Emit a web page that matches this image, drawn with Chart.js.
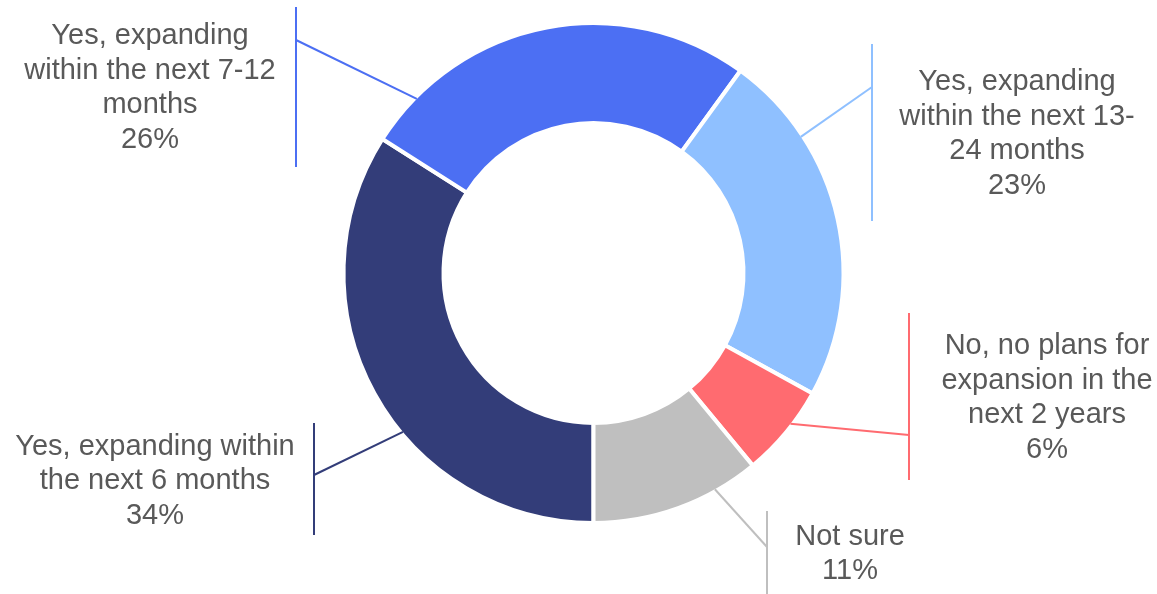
<!DOCTYPE html>
<html lang="en">
<head>
  <meta charset="UTF-8" />
  <title>Expansion Plans</title>
  <script src="https://cdn.jsdelivr.net/npm/chart.js"></script>
  <style>
    html, body { margin: 0; padding: 0; background: #fff; }
    #wrap { width: 1157px; height: 594px; }
  </style>
</head>
<body>
  <div id="wrap"><canvas id="donutChart" width="1157" height="594"></canvas></div>

  <script>
    // answer categories, label lines and shares (%)
    const categories = [
      'Yes, expanding within the next 6 months',
      'Yes, expanding within the next 7-12 months',
      'Yes, expanding within the next 13-24 months',
      'No, no plans for expansion in the next 2 years',
      'Not sure'
    ];
    const labelLines = [
      ['Yes, expanding within', 'the next 6 months'],
      ['Yes, expanding', 'within the next 7-12', 'months'],
      ['Yes, expanding', 'within the next 13-', '24 months'],
      ['No, no plans for', 'expansion in the', 'next 2 years'],
      ['Not sure']
    ];
    const shares = [34, 26, 23, 6, 11];
    const colors = ['#333D79', '#4C6FF3', '#8FC0FF', '#FF6B70', '#BFBFBF'];

    // callout boxes: text centre, bracket x, bracket top/bottom, where the leader joins,
    // and how far along the slice the leader touches the ring
    const callouts = [
      { tx: 155,  ty: 481, bx: 314, top: 423, bottom: 535, ay: 475, along: 0.41 },
      { tx: 150,  ty: 88,  bx: 296, top: 7,   bottom: 167, ay: 40,  along: 0.13 },
      { tx: 1017, ty: 134, bx: 872, top: 44,  bottom: 221, ay: 87,  along: 0.25 },
      { tx: 1047, ty: 398, bx: 909, top: 313, bottom: 480, ay: 435, along: 0.40 },
      { tx: 850,  ty: 554, bx: 767, top: 511, bottom: 598, ay: 547, along: 0.26 }
    ];

    const calloutPlugin = {
      id: 'callouts',
      afterDatasetsDraw(chart) {
        const ctx = chart.ctx;
        const meta = chart.getDatasetMeta(0);
        const values = chart.data.datasets[0].data;
        meta.data.forEach((arc, i) => {
          const c = callouts[i];
          const a = arc.startAngle + c.along * (arc.endAngle - arc.startAngle);
          const r = arc.outerRadius - 2;
          const px = arc.x + r * Math.cos(a);
          const py = arc.y + r * Math.sin(a);

          ctx.save();
          ctx.strokeStyle = colors[i];
          ctx.lineWidth = 2;
          ctx.beginPath();
          ctx.moveTo(px, py);
          ctx.lineTo(c.bx, c.ay);
          ctx.stroke();
          ctx.beginPath();
          ctx.moveTo(c.bx, c.top);
          ctx.lineTo(c.bx, c.bottom);
          ctx.stroke();

          const lines = labelLines[i].concat([values[i] + '%']);
          const lh = 34.5;
          ctx.fillStyle = '#595959';
          ctx.font = '29px "Liberation Sans", Arial, sans-serif';
          ctx.textAlign = 'center';
          ctx.textBaseline = 'middle';
          const y0 = c.ty - (lines.length - 1) * lh / 2;
          lines.forEach((t, k) => ctx.fillText(t, c.tx, y0 + k * lh));
          ctx.restore();
        });
      }
    };

    new Chart(document.getElementById('donutChart'), {
      type: 'doughnut',
      data: {
        labels: categories,
        datasets: [{
          data: shares,
          backgroundColor: colors,
          borderColor: '#ffffff',
          borderWidth: 4
        }]
      },
      options: {
        responsive: false,
        animation: false,
        rotation: 180,
        radius: 250,
        cutout: '60%',
        layout: { padding: { left: 330, right: 300, top: 23, bottom: 71 } },
        plugins: {
          legend: { display: false },
          tooltip: { enabled: false }
        }
      },
      plugins: [calloutPlugin]
    });
  </script>
</body>
</html>
